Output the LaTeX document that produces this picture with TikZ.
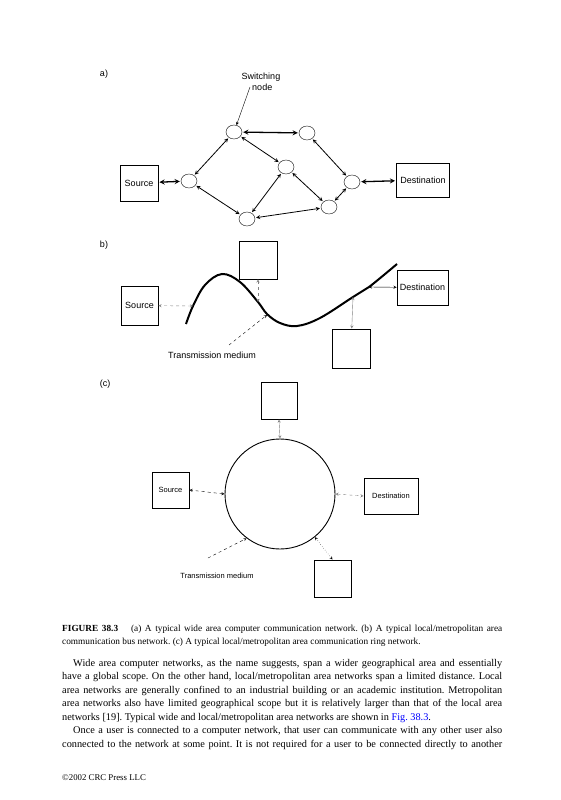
\documentclass[tikz,border=0pt]{standalone}
\usepackage{fontspec}
\setmainfont{Liberation Serif}
\newfontfamily\figfont{Liberation Sans}
\usetikzlibrary{shapes,arrows,positioning}
\frenchspacing

\begin{document}
\begin{tikzpicture}[x=1pt, y=-1pt, >=stealth, font=\figfont\fontsize{9}{10.5}\selectfont]
    \tikzstyle{switch} = [ellipse, draw, minimum width=16pt, minimum height=14pt, inner sep=0pt]
    \tikzstyle{station} = [rectangle, draw, line width=0.9pt, inner sep=0pt]
    \tikzstyle{trunk} = [line width=1.3pt, <->, shorten <=1pt, shorten >=1pt]
    \tikzstyle{link} = [line width=0.8pt, <->, shorten <=1pt, shorten >=1pt]
    \tikzstyle{tap} = [thin, <->]
    \tikzstyle{medium} = [line width=2pt]
    \tikzstyle{leader} = [thin, dashed, ->]
    \tikzstyle{prose} = [anchor=base west, text width=440pt, align=justify, inner sep=0pt]

    \useasboundingbox (0,0) rectangle (560,800);

    % (a) wide area network
    \node (labA) at (104,74) {a)};
    \node [switch] (sw1) at (234,132) {};
    \node [switch] (sw2) at (307,133) {};
    \node [switch] (sw3) at (189,181) {};
    \node [switch] (sw4) at (286,167) {};
    \node [switch] (sw5) at (352,182) {};
    \node [switch] (sw6) at (329,207) {};
    \node [switch] (sw7) at (247,219) {};
    \node [station, minimum width=38pt, minimum height=36pt] (srcA) at (139,183) {Source};
    \node [station, minimum width=53pt, minimum height=34pt] (dstA) at (423,180) {Destination};
    \node [align=center] (swlbl) at (261,82) {Switching\\ \ node};
    \coordinate (swtail) at (250,87);

    \draw [thin,->] (swtail) -- (sw1);
    \draw [trunk] (srcA) -- (sw3);
    \draw [trunk] (sw1) -- (sw2);
    \draw [trunk] (sw5) -- (dstA);
    \draw [link] (sw3) -- (sw1);
    \draw [link] (sw3) -- (sw7);
    \draw [link] (sw1) -- (sw4);
    \draw [link] (sw4) -- (sw7);
    \draw [link] (sw4) -- (sw6);
    \draw [link] (sw2) -- (sw5);
    \draw [link] (sw5) -- (sw6);
    \draw [link] (sw6) -- (sw7);

    % (b) bus network
    \node (labB) at (104,245) {b)};
    \draw [medium] plot [smooth, tension=0.6] coordinates {(186,324) (193,306) (205,285) (222,274) (240,282) (258,302) (267,314) (280,323) (297,326) (320,318) (353,297) (369,287) (397,264)};
    \coordinate (tapSrc) at (193,306);
    \coordinate (tapTop) at (258,302);
    \coordinate (tapMed) at (267,315);
    \coordinate (tapBot) at (353,297);
    \coordinate (tapDst) at (369,287);
    \node [station, minimum width=37pt, minimum height=39pt] (srcB) at (139.5,305.5) {Source};
    \node [station, minimum width=38pt, minimum height=38pt] (topB) at (258,260) {};
    \node [station, minimum width=51pt, minimum height=35pt] (dstB) at (422.5,287.5) {Destination};
    \node [station, minimum width=38pt, minimum height=39pt] (botB) at (351,348.5) {};
    \node (medB) at (212,355) {Transmission medium};
    \coordinate (medBtail) at (229,345);

    \draw [tap, dashed, gray] (tapSrc) -- (srcB);
    \draw [tap, dashed, gray] (topB) -- (tapTop);
    \draw [tap] (tapDst) -- (dstB);
    \draw [tap, gray] (tapBot) -- (botB);
    \draw [leader] (medBtail) -- (tapMed);

    % (c) ring network
    \node (labC) at (105,384) {(c)};
    \node [draw, circle, line width=0.9pt, minimum size=110pt, inner sep=0pt] (ring) at (280,494) {};
    \node [station, minimum width=36pt, minimum height=37pt] (topC) at (279,400.5) {};
    \node [station, minimum width=37pt, minimum height=36pt, font=\figfont\fontsize{7.5}{9}\selectfont] (srcC) at (170.5,490) {Source};
    \node [station, minimum width=54pt, minimum height=36pt, font=\figfont\fontsize{7.5}{9}\selectfont] (dstC) at (391,496) {Destination};
    \node [station, minimum width=37pt, minimum height=37pt] (botC) at (332.5,578.5) {};
    \node [font=\figfont\fontsize{7.5}{9}\selectfont] (medC) at (217,576) {Transmission medium};
    \coordinate (medCtail) at (208,558);

    \draw [tap, gray] (topC.south) -- (ring.north);
    \draw [tap, dashed] (ring.west) -- (srcC.east);
    \draw [tap, dashed, gray] (ring.east) -- (dstC.west);
    \draw [tap, dotted] (ring.-51) -- (botC.north);
    \draw [leader] (medCtail) -- (ring.-127);

    % caption, text and footer
    \node [prose, font=\fontsize{9.3}{13}\selectfont] (caption) at (62,631) {\textbf{FIGURE 38.3}\quad\ (a) A typical wide area computer communication network. (b) A typical local/metropolitan area\linebreak communication bus network. (c) A typical local/metropolitan area communication ring network.};
    \node [prose, font=\fontsize{10.3}{13.5}\selectfont] (body) at (62,666) {\hspace*{11pt}Wide area computer networks, as the name suggests, span a wider geographical area and essentially\linebreak have a global scope. On the other hand, local/metropolitan area networks span a limited distance. Local\linebreak area networks are generally confined to an industrial building or an academic institution. Metropolitan\linebreak area networks also have limited geographical scope but it is relatively larger than that of the local area\linebreak networks [19]. Typical wide and local/metropolitan area networks are shown in \textcolor{blue}{Fig. 38.3}.\par
    \hspace*{11pt}Once a user is connected to a computer network, that user can communicate with any other user also\linebreak connected to the network at some point. It is not required for a user to be connected directly to another\parfillskip=0pt\par};
    \node [anchor=base west, inner sep=0pt, font=\fontsize{8.8}{10}\selectfont] (footer) at (62,780) {\textcopyright2002 CRC Press LLC};
\end{tikzpicture}
\end{document}
